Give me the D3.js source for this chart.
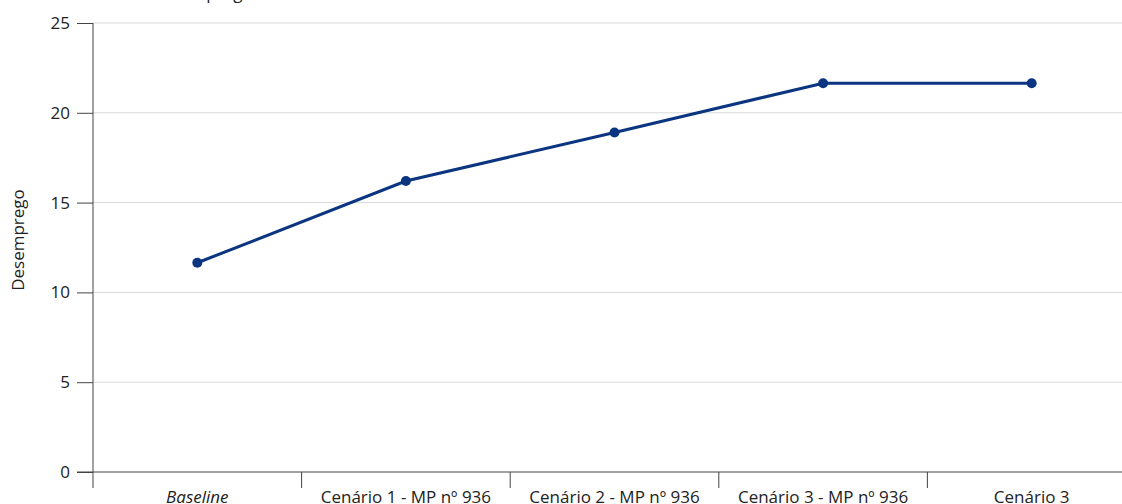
<!DOCTYPE html>
<html>
<head>
<meta charset="utf-8">
<script src="https://cdn.jsdelivr.net/npm/d3@7"></script>
<style>
  body { margin: 0; background: #fff; }
  svg { display: block; }
  svg text { font-family: "Open Sans", "Noto Sans", sans-serif; font-size: 17px; fill: #222; }
  .grid line { stroke: #d9d9d9; stroke-width: 1; }
  .axis path, .axis line { stroke: #444; }
</style>
</head>
<body>
<svg id="chart"></svg>
<script>
// data
var categories = ["Baseline", "Cenário 1 - MP nº 936", "Cenário 2 - MP nº 936", "Cenário 3 - MP nº 936", "Cenário 3"];
var desemprego = [11.65, 16.2, 18.9, 21.65, 21.65];
var yTicks = [0, 5, 10, 15, 20, 25];

var width = 1122, height = 504;
var margin = {top: 23, right: -14, bottom: 32, left: 93};

var svg = d3.select("#chart")
    .attr("width", width)
    .attr("height", height);

var x = d3.scaleBand()
    .domain(categories)
    .range([margin.left, width - margin.right]);

var y = d3.scaleLinear()
    .domain([0, 25])
    .range([height - margin.bottom, margin.top]);

// gridlines
svg.append("g")
    .attr("class", "grid")
  .selectAll("line")
  .data(yTicks.filter(function(d) { return d > 0; }))
  .enter().append("line")
    .attr("x1", margin.left)
    .attr("x2", width)
    .attr("y1", function(d) { return y(d); })
    .attr("y2", function(d) { return y(d); });

// y axis
var yAxis = svg.append("g")
    .attr("class", "axis")
    .attr("transform", "translate(" + margin.left + ",0)")
    .call(d3.axisLeft(y).tickValues(yTicks).tickSize(16).tickPadding(7).tickSizeOuter(0));
yAxis.select(".domain").attr("d", "M0," + y(0) + "V" + y(25));

// x axis, ticks between the bands
var xAxis = svg.append("g")
    .attr("class", "axis")
    .attr("transform", "translate(0," + y(0) + ")");
xAxis.append("line")
    .attr("x1", margin.left - 16).attr("x2", width)
    .attr("y1", 0).attr("y2", 0);
xAxis.selectAll(".sep")
  .data(categories)
  .enter().append("line")
    .attr("class", "sep")
    .attr("x1", function(d) { return x(d); })
    .attr("x2", function(d) { return x(d); })
    .attr("y1", 0).attr("y2", 16);
xAxis.selectAll(".lbl")
  .data(categories)
  .enter().append("text")
    .attr("class", "lbl")
    .attr("x", function(d) { return x(d) + x.bandwidth() / 2; })
    .attr("y", 31)
    .attr("text-anchor", "middle")
    .style("font-style", function(d, i) { return i === 0 ? "italic" : "normal"; })
    .text(function(d) { return d; });

// axis title
svg.append("text")
    .attr("transform", "translate(24," + 240 + ") rotate(-90)")
    .attr("text-anchor", "middle")
    .text("Desemprego");

// title above, mostly off the top edge
svg.append("text")
    .attr("x", 151)
    .attr("y", -1)
    .text("Desemprego");

// line
var line = d3.line()
    .x(function(d, i) { return x(categories[i]) + x.bandwidth() / 2; })
    .y(function(d) { return y(d); });

svg.append("path")
    .datum(desemprego)
    .attr("fill", "none")
    .attr("stroke", "#0b3580")
    .attr("stroke-width", 3)
    .attr("d", line);

svg.append("g")
  .selectAll("circle")
  .data(desemprego)
  .enter().append("circle")
    .attr("cx", function(d, i) { return x(categories[i]) + x.bandwidth() / 2; })
    .attr("cy", function(d) { return y(d); })
    .attr("r", 5)
    .attr("fill", "#0b3580");
</script>
</body>
</html>
